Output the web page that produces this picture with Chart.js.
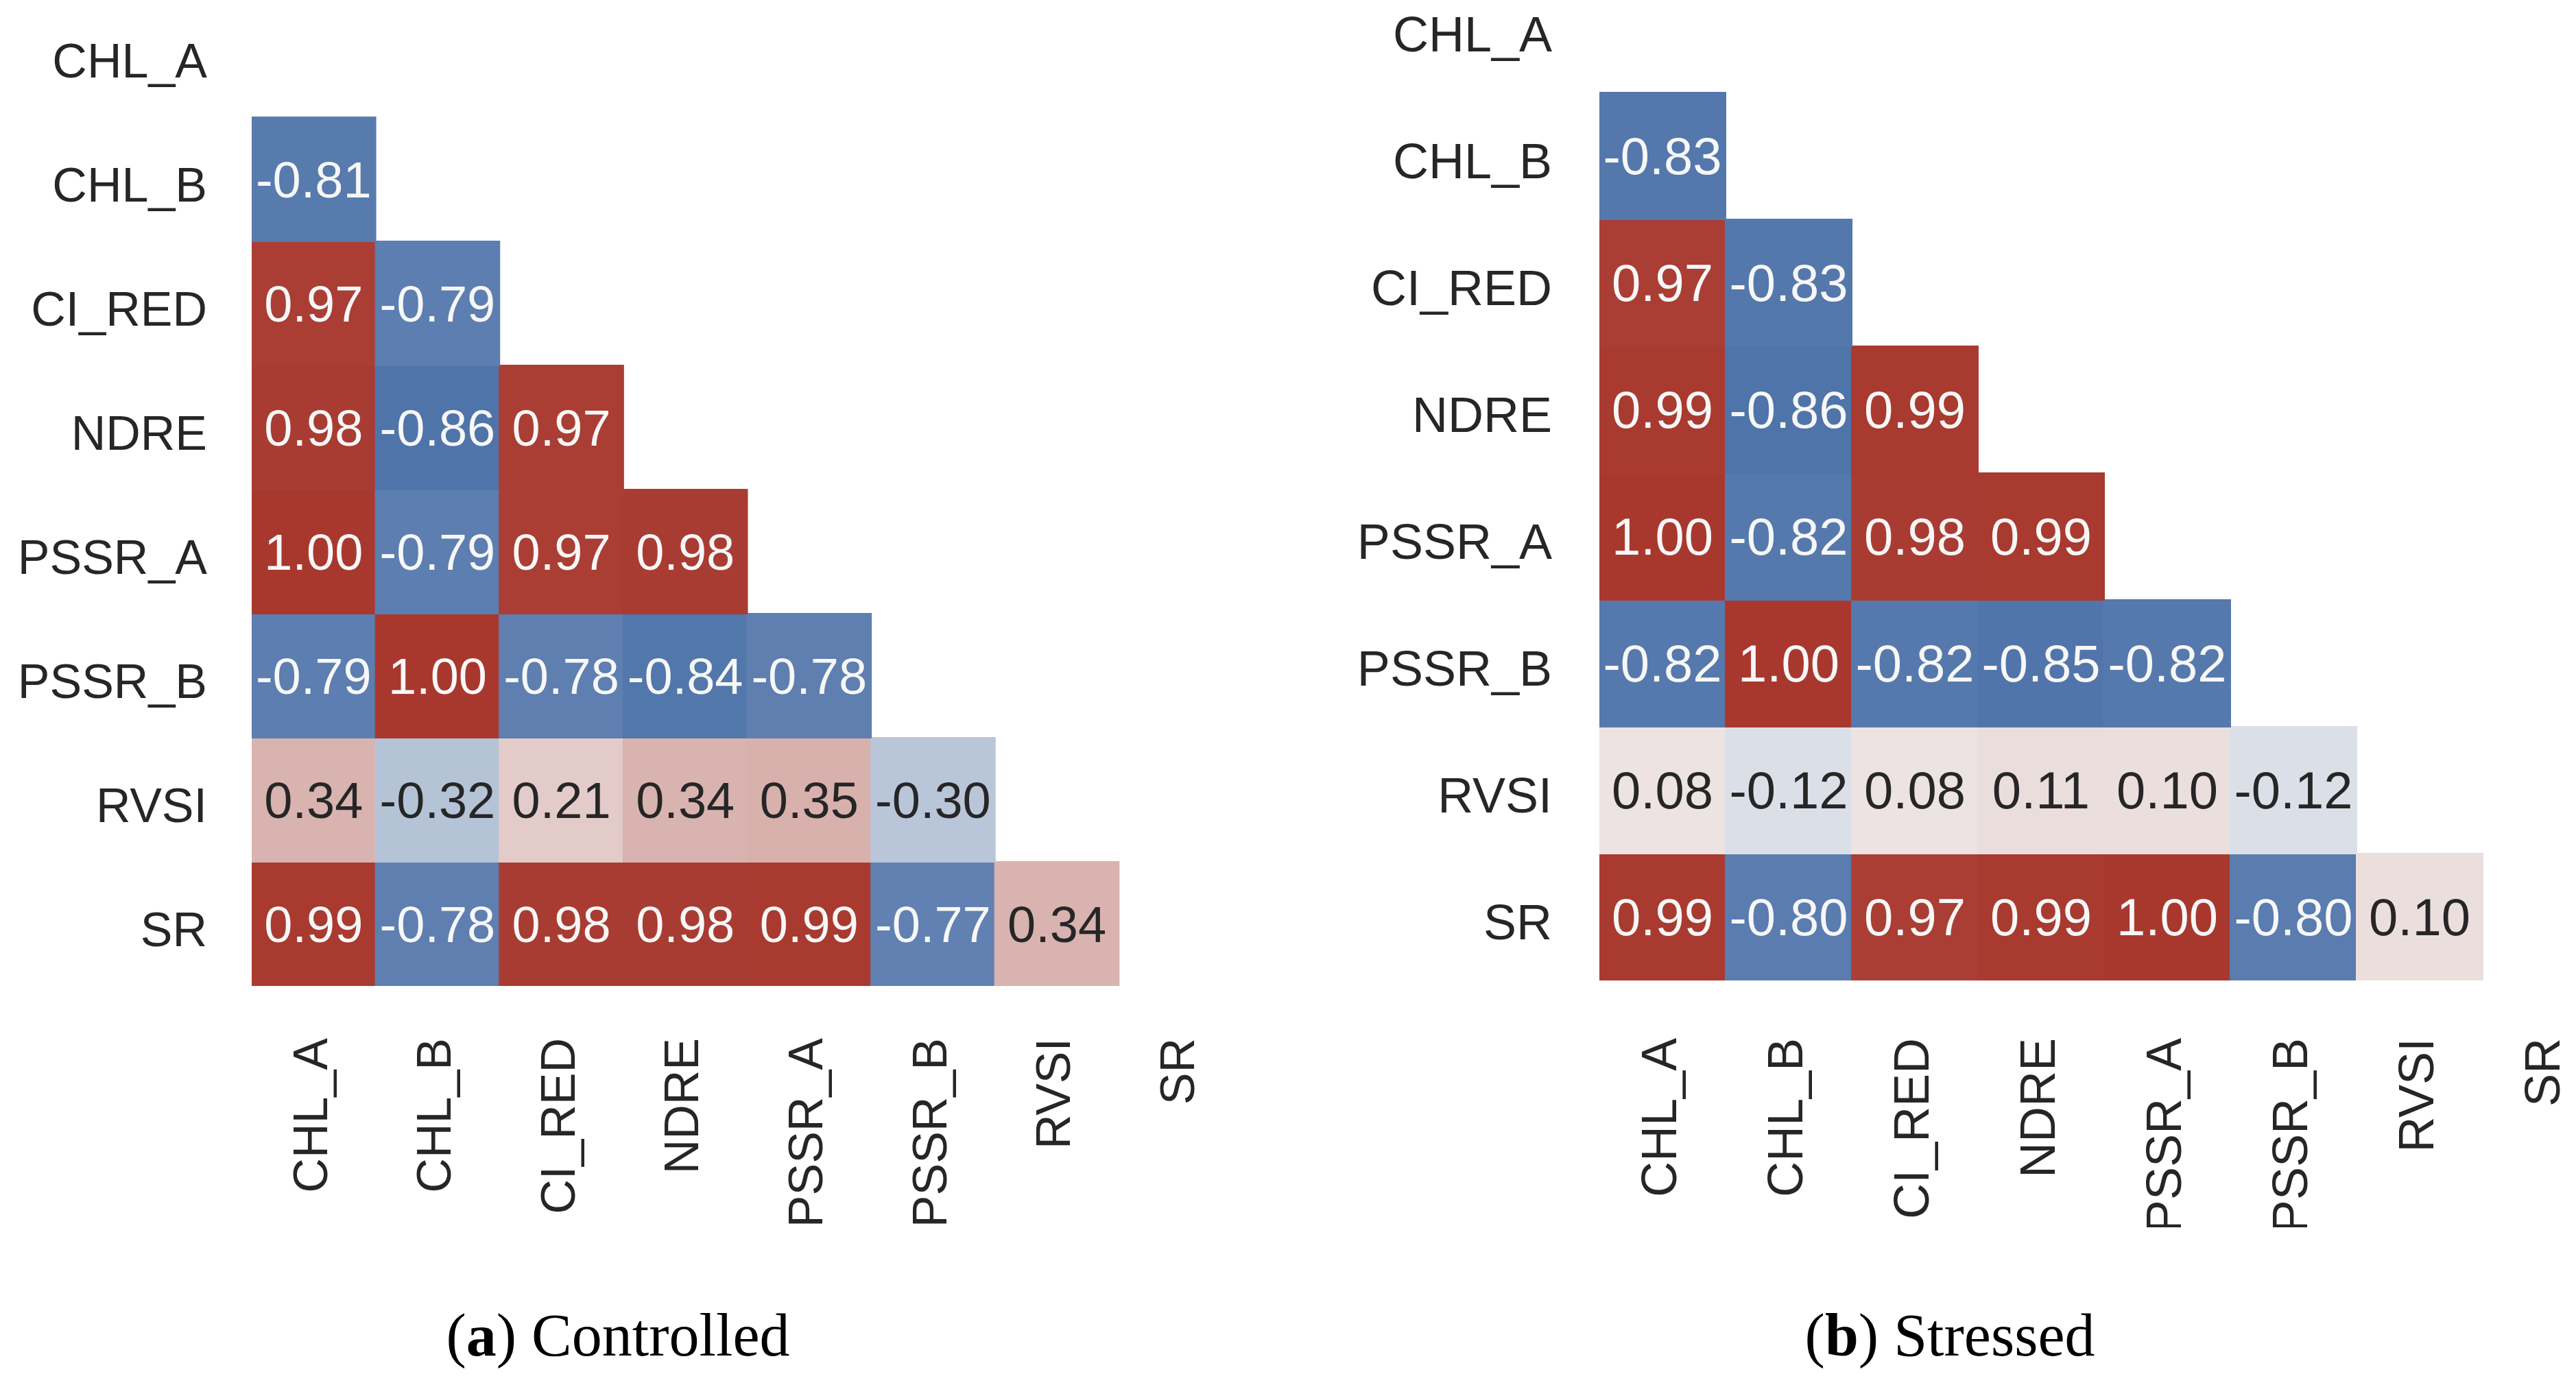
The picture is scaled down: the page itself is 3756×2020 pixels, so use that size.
<!DOCTYPE html>
<html>
<head>
<meta charset="utf-8">
<script src="https://cdn.jsdelivr.net/npm/chart.js@4.4.1/dist/chart.umd.min.js"></script>
<style>
  html, body { margin: 0; padding: 0; background: #fff; width: 3756px; height: 2020px; overflow: hidden; }
  body { position: relative; }
  .box { position: absolute; }
  .caption { position: absolute; width: 900px; text-align: center; font-family: "Liberation Serif", serif; font-size: 88px; line-height: 88px; color: #000; }
</style>
</head>
<body>
<div class="box" style="left:0px; top:-140px; width:1912px; height:1938px;"><canvas id="controlledChart"></canvas></div>
<div class="box" style="left:1950px; top:-180px; width:1954px; height:1970px;"><canvas id="stressedChart"></canvas></div>
<div class="caption" style="left:451px; top:1904px;">(<b>a</b>) Controlled</div>
<div class="caption" style="left:2393px; top:1904px;">(<b>b</b>) Stressed</div>

<script>
// labels for both axes
const varLabels = ['CHL_A', 'CHL_B', 'CI_RED', 'NDRE', 'PSSR_A', 'PSSR_B', 'RVSI', 'SR'];

// lower triangle of the correlation matrix, row i = columns 0..i-1
const controlledValues = [
  [],
  [-0.81],
  [0.97, -0.79],
  [0.98, -0.86, 0.97],
  [1.00, -0.79, 0.97, 0.98],
  [-0.79, 1.00, -0.78, -0.84, -0.78],
  [0.34, -0.32, 0.21, 0.34, 0.35, -0.30],
  [0.99, -0.78, 0.98, 0.98, 0.99, -0.77, 0.34]
];

const stressedValues = [
  [],
  [-0.83],
  [0.97, -0.83],
  [0.99, -0.86, 0.99],
  [1.00, -0.82, 0.98, 0.99],
  [-0.82, 1.00, -0.82, -0.85, -0.82],
  [0.08, -0.12, 0.08, 0.11, 0.10, -0.12],
  [0.99, -0.80, 0.97, 0.99, 1.00, -0.80, 0.10]
];

// diverging colour map, light grey in the middle
function cellColor(v) {
  const mid = [242, 242, 242];
  const end = v >= 0 ? [168, 56, 46] : [52, 95, 158];
  const t = Math.min(Math.abs(v), 1);
  const c = mid.map((m, k) => Math.round(m + (end[k] - m) * t));
  return 'rgb(' + c.join(',') + ')';
}

function buildDatasets(values) {
  return values.map((row, r) => ({
    label: varLabels[r],
    data: row.map((v, c) => ({ x: c, y: [r - 0.5, r + 0.5], v: v })),
    backgroundColor: row.map(cellColor),
    borderWidth: 0,
    barPercentage: 1,
    categoryPercentage: 1,
    grouped: false,
    inflateAmount: 1
  })).filter(d => d.data.length > 0);
}

// writes the value in every cell
const cellText = {
  id: 'cellText',
  afterDatasetsDraw(chart, args, opts) {
    const ctx = chart.ctx;
    ctx.save();
    ctx.font = opts.size + 'px "Liberation Sans", Arial, sans-serif';
    ctx.textAlign = 'center';
    ctx.textBaseline = 'middle';
    chart.data.datasets.forEach((ds, i) => {
      chart.getDatasetMeta(i).data.forEach((bar, j) => {
        const v = ds.data[j].v;
        const p = bar.getCenterPoint();
        ctx.fillStyle = Math.abs(v) > 0.5 ? '#f7f7f7' : '#262626';
        ctx.fillText(v.toFixed(2), p.x, p.y + 6);
      });
    });
    ctx.restore();
  }
};

function heatmapConfig(values, yAxisWidth, labelSize, textSize, xPad, yPad) {
  const idx = varLabels.map((l, i) => ({ value: i }));
  return {
    type: 'bar',
    data: { datasets: buildDatasets(values) },
    plugins: [cellText],
    options: {
      responsive: true,
      maintainAspectRatio: false,
      animation: false,
      layout: { padding: { top: 130, right: 100, bottom: 0, left: 0 } },
      plugins: {
        legend: { display: false },
        tooltip: { enabled: false },
        cellText: { size: textSize }
      },
      scales: {
        x: {
          type: 'linear',
          offset: false,
          min: -0.5,
          max: 7.5,
          grid: { display: false, drawTicks: false },
          border: { display: false },
          afterBuildTicks: axis => { axis.ticks = idx.map(t => ({ value: t.value })); },
          afterFit: axis => { axis.height = 360; },
          ticks: {
            autoSkip: false,
            minRotation: 90,
            maxRotation: 90,
            padding: xPad,
            color: '#262626',
            font: { family: '"Liberation Sans", Arial, sans-serif', size: labelSize },
            callback: v => varLabels[v]
          }
        },
        y: {
          type: 'linear',
          reverse: true,
          min: -0.5,
          max: 7.5,
          grid: { display: false, drawTicks: false },
          border: { display: false },
          afterBuildTicks: axis => { axis.ticks = idx.map(t => ({ value: t.value })); },
          afterFit: axis => { axis.width = yAxisWidth; },
          ticks: {
            autoSkip: false,
            padding: yPad,
            labelOffset: 13,
            color: '#262626',
            font: { family: '"Liberation Sans", Arial, sans-serif', size: labelSize },
            callback: v => varLabels[v]
          }
        }
      }
    }
  };
}

//////////////CONTROLLED///////////
const controlledChart = new Chart(
  document.getElementById('controlledChart'),
  heatmapConfig(controlledValues, 367, 70, 74, 76, 65)
);

//////////////STRESSED///////////
const stressedChart = new Chart(
  document.getElementById('stressedChart'),
  heatmapConfig(stressedValues, 382, 72, 76, 84, 69)
);
</script>
</body>
</html>
